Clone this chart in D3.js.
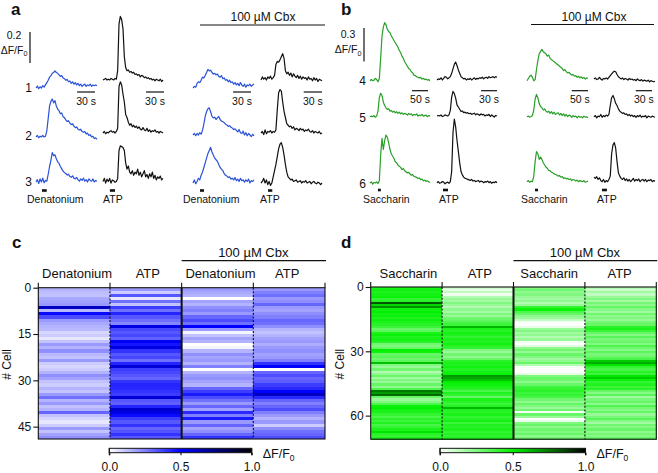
<!DOCTYPE html>
<html><head><meta charset="utf-8">
<script src="https://cdn.jsdelivr.net/npm/d3@7"></script>
<style>
body{margin:0;background:#fff}
svg{display:block}
text{font-family:"Liberation Sans",Arial,Helvetica,sans-serif;fill:#111}
</style>
</head><body>
<script>
// ---------------- DATA (ΔF/F0 values) ----------------
// Panel a: Denatonium / ATP traces, cells 1-3, control and 100 µM Cbx
const aDenCtrl = [
 [0.00,0.012,-0.005,0.008,0.0,0.015,0.005,0.02,0.035,0.05,0.07,0.08,0.095,0.1,0.11,0.1,0.095,0.085,0.075,0.08,0.065,0.06,0.05,0.055,0.04,0.045,0.03,0.04,0.025,0.035,0.02,0.03,0.015,0.025,0.01,0.02,0.025,0.01,0.02,0.015,0.025,0.01,0.02,0.015,0.02,0.015],
 [0.0,0.01,-0.005,0.005,0.0,0.01,0.0,0.005,0.04,0.12,0.2,0.23,0.245,0.22,0.235,0.2,0.18,0.17,0.15,0.155,0.13,0.125,0.11,0.1,0.105,0.09,0.08,0.085,0.07,0.06,0.065,0.05,0.045,0.05,0.035,0.03,0.035,0.02,0.025,0.01,0.015,0.0,0.005,-0.01,-0.005,-0.015],
 [0.0,0.015,-0.01,0.02,0.0,0.025,-0.005,0.01,0.005,0.05,0.1,0.14,0.19,0.17,0.175,0.15,0.13,0.12,0.1,0.085,0.07,0.06,0.055,0.045,0.05,0.035,0.03,0.04,0.025,0.02,0.03,0.015,0.005,0.02,0.01,0.025,0.005,0.015,0.0,0.02,0.01,0.005,0.02,0.0,0.01,0.005]
];
const aAtpCtrl = [
 [0.0,0.005,0.01,0.0,0.005,0.0,0.01,0.005,0.0,0.01,0.005,0.06,0.36,0.41,0.39,0.33,0.15,0.08,0.06,0.065,0.05,0.055,0.045,0.05,0.035,0.04,0.03,0.035,0.02,0.03,0.025,0.015,0.02,0.01,0.015,0.005,0.01,0.0,0.005,-0.005,0.005,0.0,-0.005,0.005,-0.01,0.0],
 [0.0,0.01,-0.005,0.005,0.0,0.01,0.015,0.005,0.01,0.0,0.01,0.03,0.3,0.33,0.31,0.25,0.2,0.12,0.1,0.07,0.05,0.06,0.04,0.05,0.035,0.045,0.03,0.04,0.025,0.02,0.035,0.02,0.015,0.03,0.01,0.02,0.005,0.015,0.01,0.02,0.005,0.01,0.0,0.01,0.005,0.0],
 [0.0,0.02,-0.01,0.015,0.0,0.02,-0.01,0.01,0.005,-0.005,0.0,0.02,0.2,0.23,0.225,0.22,0.2,0.12,0.08,0.1,0.06,0.05,0.07,0.04,0.06,0.05,0.08,0.04,0.06,0.03,0.05,0.07,0.03,0.045,0.02,0.05,0.03,0.06,0.02,0.04,0.01,0.03,0.02,0.035,0.01,0.02]
];
const aDenCbx = [
 [0.0,0.01,0.005,0.03,0.04,0.035,0.05,0.07,0.065,0.08,0.1,0.12,0.11,0.115,0.1,0.09,0.095,0.085,0.09,0.075,0.07,0.08,0.06,0.065,0.05,0.055,0.04,0.05,0.035,0.04,0.025,0.035,0.02,0.03,0.015,0.035,0.02,0.01,0.025,0.005,0.02,0.015,0.025,0.01,0.02,0.025],
 [0.0,0.01,-0.005,0.01,0.0,0.015,0.005,0.03,0.07,0.12,0.15,0.17,0.175,0.15,0.12,0.11,0.115,0.1,0.11,0.12,0.1,0.09,0.085,0.08,0.07,0.065,0.055,0.06,0.05,0.045,0.035,0.04,0.03,0.02,0.035,0.015,0.01,0.025,0.0,0.015,-0.005,0.01,0.0,-0.01,0.005,-0.005],
 [0.0,0.02,-0.005,0.01,0.03,0.02,0.05,0.07,0.1,0.13,0.16,0.19,0.21,0.23,0.2,0.18,0.16,0.15,0.14,0.12,0.1,0.09,0.08,0.06,0.05,0.045,0.035,0.04,0.025,0.03,0.02,0.035,0.015,0.025,0.01,0.03,0.015,0.02,0.005,0.02,0.01,0.025,0.0,0.015,0.01,0.02]
];
const aAtpCbx = [
 [0.0,0.02,0.005,0.015,0.0,0.02,0.01,0.025,0.005,0.015,0.03,0.1,0.12,0.115,0.13,0.15,0.17,0.14,0.06,0.04,0.05,0.03,0.045,0.02,0.04,0.025,0.015,0.03,0.01,0.025,0.005,0.02,0.01,0.015,0.0,0.02,0.005,0.01,-0.005,0.015,0.0,0.01,-0.01,0.005,0.0,-0.005],
 [0.0,0.01,-0.01,0.02,-0.005,0.01,0.005,0.015,0.0,0.01,0.005,0.02,0.15,0.26,0.28,0.27,0.2,0.14,0.1,0.06,0.05,0.04,0.045,0.03,0.04,0.02,0.03,0.025,0.015,0.03,0.02,0.025,0.01,0.02,0.015,0.025,0.01,0.005,0.015,0.0,0.01,0.005,0.0,0.01,-0.005,0.0],
 [0.0,0.01,0.03,0.0,0.02,-0.01,0.01,-0.015,0.0,0.04,0.08,0.12,0.17,0.22,0.25,0.26,0.23,0.18,0.12,0.07,0.04,0.03,0.02,0.025,0.01,0.015,0.02,0.005,0.01,0.015,0.0,0.01,0.005,0.015,0.0,0.005,0.01,-0.005,0.005,0.01,0.0,-0.005,0.005,0.0,-0.01,0.0]
];
// Panel b: Saccharin / ATP traces, cells 4-6
const bSacCtrl = [
 [0.0,0.01,0.0,0.005,0.02,0.01,-0.01,0.02,0.2,0.4,0.48,0.52,0.5,0.46,0.44,0.43,0.4,0.38,0.36,0.34,0.32,0.3,0.27,0.25,0.22,0.2,0.17,0.15,0.13,0.11,0.1,0.08,0.07,0.05,0.045,0.035,0.03,0.025,0.03,0.015,0.02,0.01,0.015,0.005,0.01,0.0],
 [0.0,0.005,0.0,0.01,-0.005,0.005,0.05,0.17,0.21,0.19,0.13,0.1,0.08,0.065,0.07,0.05,0.055,0.04,0.05,0.035,0.045,0.03,0.04,0.025,0.035,0.02,0.03,0.025,0.015,0.03,0.02,0.025,0.01,0.02,0.015,0.025,0.005,0.015,0.01,0.02,0.005,0.01,0.015,0.0,0.01,0.005],
 [0.0,0.01,-0.01,0.005,0.0,0.01,-0.005,0.02,0.25,0.4,0.3,0.38,0.43,0.41,0.36,0.3,0.26,0.24,0.22,0.19,0.18,0.16,0.15,0.14,0.12,0.13,0.11,0.1,0.09,0.095,0.08,0.07,0.075,0.06,0.055,0.05,0.04,0.045,0.03,0.035,0.02,0.025,0.015,0.02,0.01,0.005]
];
const bAtpCtrl = [
 [0.0,0.01,0.005,0.02,0.0,0.015,0.03,0.025,0.01,0.02,0.03,0.06,0.1,0.14,0.16,0.13,0.09,0.06,0.03,0.02,0.01,0.015,0.0,0.01,0.005,0.015,0.0,0.01,0.02,0.005,0.015,0.01,0.02,0.015,0.025,0.01,0.02,0.025,0.015,0.03,0.02,0.025,0.03,0.02,0.03,0.025],
 [0.0,0.005,0.0,0.01,-0.005,0.0,0.01,0.005,0.0,0.01,0.05,0.17,0.22,0.2,0.16,0.1,0.08,0.06,0.04,0.045,0.03,0.035,0.025,0.03,0.02,0.025,0.015,0.02,0.025,0.01,0.02,0.015,0.005,0.02,0.01,0.015,0.0,0.01,0.005,0.015,-0.005,0.01,0.0,-0.01,0.005,0.0],
 [0.0,0.01,-0.005,0.0,0.01,0.005,-0.01,0.0,0.005,-0.005,0.01,0.1,0.45,0.57,0.5,0.38,0.28,0.18,0.1,0.07,0.05,0.04,0.035,0.03,0.025,0.02,0.03,0.015,0.02,0.01,0.015,0.02,0.005,0.015,0.01,0.0,0.01,0.005,0.015,0.0,0.01,-0.005,0.005,0.0,0.01,0.0]
];
const bSacCbx = [
 [0.0,0.02,0.04,0.05,0.03,0.0,0.01,0.1,0.18,0.24,0.26,0.28,0.26,0.25,0.24,0.22,0.23,0.2,0.19,0.18,0.17,0.16,0.15,0.14,0.13,0.12,0.11,0.09,0.1,0.08,0.07,0.075,0.06,0.05,0.055,0.04,0.045,0.03,0.04,0.025,0.035,0.02,0.03,0.015,0.025,0.02],
 [0.0,0.005,-0.005,0.0,0.01,0.06,0.16,0.2,0.17,0.12,0.09,0.08,0.06,0.07,0.05,0.04,0.05,0.03,0.045,0.025,0.04,0.02,0.03,0.035,0.015,0.03,0.01,0.025,0.005,0.02,0.0,0.015,0.01,-0.005,0.01,0.0,0.005,-0.01,0.005,-0.005,0.0,-0.01,0.005,-0.005,0.0,-0.01],
 [0.0,0.01,-0.005,0.005,0.0,0.05,0.18,0.27,0.25,0.2,0.22,0.2,0.17,0.15,0.13,0.12,0.1,0.1,0.085,0.08,0.07,0.065,0.06,0.05,0.055,0.04,0.045,0.03,0.035,0.025,0.03,0.02,0.025,0.01,0.02,0.015,0.005,0.015,0.0,0.01,0.005,0.0,0.01,-0.005,0.0,0.005]
];
const bAtpCbx = [
 [0.0,0.01,-0.005,0.0,0.015,0.0,-0.01,0.005,0.0,0.01,0.0,0.015,0.03,0.045,0.06,0.07,0.065,0.04,0.02,0.01,0.0,0.01,-0.005,0.005,0.0,-0.01,0.005,-0.005,0.0,-0.01,-0.005,-0.015,0.0,-0.01,-0.015,-0.005,-0.02,-0.01,-0.015,-0.02,-0.01,-0.025,-0.015,-0.02,-0.025,-0.02],
 [0.0,0.01,-0.01,0.005,0.0,0.02,-0.005,0.01,0.0,0.015,0.005,0.02,0.1,0.17,0.19,0.16,0.12,0.1,0.07,0.05,0.04,0.03,0.035,0.02,0.025,0.01,0.02,0.005,0.015,0.0,0.01,-0.005,0.01,0.0,0.015,-0.005,0.005,0.0,0.01,-0.01,0.005,0.0,-0.005,0.005,0.0,-0.005],
 [0.04,0.03,0.045,0.02,0.035,0.01,0.0,0.02,-0.005,0.01,0.0,0.02,0.05,0.25,0.33,0.35,0.3,0.18,0.08,0.05,0.03,0.02,0.035,0.01,0.025,0.005,0.02,0.0,0.015,0.03,0.005,0.02,0.01,0.025,0.0,0.015,0.02,0.005,0.02,0.0,0.015,0.01,0.02,0.0,0.01,0.005]
];

// Panel c heatmap (49 cells): Denatonium, ATP, Cbx Denatonium, Cbx ATP
const cColumns = ["Denatonium","ATP","Denatonium","ATP"];
const cDenCtrl = [0.15,0.13,0.12,0.17,0.18,0.2,0.62,0.14,0.48,0.35,0.2,0.17,0.15,0.14,0.08,0.1,0.05,0.12,0.2,0.15,0.22,0.14,0.12,0.2,0.1,0.08,0.1,0.15,0.22,0.18,0.12,0.1,0.15,0.12,0.2,0.28,0.15,0.2,0.12,0.15,0.3,0.12,0.08,0.05,0.1,0.2,0.12,0.18,0.22];
const cAtpCtrl = [0.2,0.1,0.33,0.05,0.28,0.12,0.38,0.28,0.43,0.33,0.28,0.24,0.55,0.36,0.33,0.36,0.31,0.52,0.46,0.55,0.4,0.33,0.36,0.28,0.43,0.58,0.38,0.36,0.33,0.3,0.4,0.43,0.42,0.4,0.38,0.58,0.33,0.31,0.43,0.6,0.55,0.48,0.38,0.33,0.4,0.3,0.34,0.4,0.33];
const cDenCbx = [0.2,0.17,0.15,0.0,0.18,0.15,0.22,0.25,0.2,0.3,0.35,0.28,0.5,0.2,0.02,0.12,0.18,0.15,0.0,0.02,0.15,0.22,0.18,0.2,0.15,0.25,0.0,0.15,0.2,0.22,0.18,0.15,0.3,0.38,0.45,0.35,0.28,0.2,0.3,0.18,0.42,0.25,0.45,0.2,0.3,0.18,0.22,0.3,0.4];
const cAtpCbx = [0.2,0.25,0.28,0.2,0.22,0.3,0.2,0.18,0.22,0.25,0.3,0.28,0.22,0.15,0.12,0.15,0.18,0.2,0.16,0.2,0.22,0.18,0.2,0.25,0.4,0.5,0.0,0.3,0.35,0.3,0.32,0.38,0.42,0.5,0.62,0.42,0.3,0.25,0.3,0.35,0.25,0.2,0.15,0.2,0.1,0.22,0.28,0.3,0.35];
const cTicks = [0,15,30,45];

// Panel d heatmap (71 cells): Saccharin, ATP, Cbx Saccharin, Cbx ATP
const dColumns = ["Saccharin","ATP","Saccharin","ATP"];
const dSacCtrl = [0.45,0.47,0.44,0.46,0.48,0.4,0.42,0.82,0.55,0.7,0.47,0.5,0.46,0.48,0.44,0.47,0.45,0.42,0.38,0.3,0.32,0.45,0.48,0.44,0.46,0.42,0.28,0.25,0.3,0.5,0.47,0.3,0.33,0.28,0.32,0.6,0.25,0.2,0.28,0.15,0.22,0.3,0.18,0.25,0.2,0.3,0.22,0.35,0.75,0.68,0.78,0.3,0.2,0.25,0.35,0.48,0.5,0.46,0.45,0.4,0.35,0.42,0.38,0.44,0.36,0.4,0.45,0.52,0.42,0.4,0.44];
const dAtpCtrl = [0.1,0.05,0.12,0.03,0.15,0.2,0.18,0.25,0.2,0.15,0.22,0.18,0.25,0.2,0.28,0.3,0.35,0.38,0.62,0.45,0.42,0.46,0.44,0.4,0.45,0.43,0.47,0.42,0.4,0.25,0.2,0.28,0.22,0.3,0.42,0.45,0.44,0.47,0.43,0.46,0.48,0.68,0.65,0.6,0.5,0.47,0.45,0.42,0.35,0.44,0.4,0.3,0.45,0.42,0.38,0.43,0.62,0.44,0.42,0.45,0.4,0.43,0.46,0.38,0.44,0.42,0.45,0.4,0.43,0.41,0.44];
const dSacCbx = [0.25,0.28,0.22,0.25,0.2,0.18,0.22,0.15,0.2,0.4,0.48,0.35,0.3,0.22,0.2,0.12,0.02,0.0,0.05,0.2,0.25,0.18,0.22,0.15,0.2,0.03,0.0,0.06,0.22,0.28,0.2,0.3,0.25,0.18,0.22,0.3,0.15,0.02,0.0,0.0,0.05,0.25,0.3,0.28,0.22,0.3,0.38,0.4,0.42,0.38,0.4,0.36,0.28,0.22,0.3,0.25,0.2,0.28,0.02,0.3,0.2,0.0,0.05,0.25,0.3,0.22,0.28,0.25,0.3,0.22,0.28];
const dAtpCbx = [0.15,0.1,0.18,0.12,0.2,0.25,0.18,0.27,0.22,0.3,0.24,0.18,0.28,0.22,0.25,0.2,0.27,0.3,0.42,0.45,0.38,0.3,0.24,0.33,0.26,0.3,0.24,0.35,0.28,0.24,0.32,0.26,0.3,0.36,0.58,0.64,0.52,0.4,0.36,0.42,0.38,0.52,0.58,0.48,0.4,0.44,0.38,0.42,0.3,0.24,0.33,0.18,0.26,0.3,0.22,0.35,0.27,0.24,0.3,0.2,0.26,0.33,0.24,0.18,0.28,0.24,0.3,0.22,0.27,0.24,0.3];
const dTicks = [0,30,60];
const cbTicks = [0.0,0.5,1.0];

// ---------------- LAYOUT ----------------
const svg = d3.select("body").append("svg").attr("width",658).attr("height",473);
const INK = "#111";
const BLUE = "#2a52d8", GREEN = "#28a028";

function text(x,y,s,size,anchor,weight){
  return svg.append("text").attr("x",x).attr("y",y).attr("font-size",size)
    .attr("text-anchor",anchor||"start").attr("font-weight",weight||"normal").text(s);
}
function dffLabel(x,y,size,anchor){
  const t = svg.append("text").attr("x",x).attr("y",y).attr("font-size",size).attr("text-anchor",anchor||"start");
  t.append("tspan").text("ΔF/F");
  t.append("tspan").attr("font-size",size*0.68).attr("dy",size*0.28).text("0");
  return t;
}
function hline(x1,x2,y,w){ svg.append("line").attr("x1",x1).attr("x2",x2).attr("y1",y).attr("y2",y).attr("stroke",INK).attr("stroke-width",w||1); }

// trace groups
function drawGroup(grp, pxPerUnit, stimY, sbY){
  const x = d3.scaleLinear().domain([0,grp.dur]).range([grp.x0, grp.x0+grp.w]);
  grp.data.forEach((vals,r)=>{
    const y = d3.scaleLinear().domain([0,1]).range([grp.base[r], grp.base[r]-pxPerUnit]);
    const n = vals.length;
    const line = d3.line().x((d,i)=>x(i*grp.dur/(n-1))).y(d=>y(d));
    svg.append("path").attr("d",line(vals)).attr("fill","none").attr("stroke",grp.color)
      .attr("stroke-width",1.2).attr("stroke-linejoin","round");
  });
  svg.append("rect").attr("x",x(grp.stim[0])).attr("width",x(grp.stim[1])-x(grp.stim[0]))
    .attr("y",stimY-1.3).attr("height",2.6).attr("fill",INK);
  const xe = x(grp.sbEnd), xs = x(grp.sbEnd-grp.sbLen);
  hline(xs,xe,sbY,1.2);
  text((xs+xe)/2, sbY+12.5, grp.sbLen+" s", 10.5, "middle");
}

// Panel a
const pxA = 31/0.2;
[
 {data:aDenCtrl,x0:36,w:61,dur:102,color:BLUE,base:[88,137,182],stim:[10,18],sbEnd:98.7,sbLen:30},
 {data:aAtpCtrl,x0:103,w:60,dur:100,color:INK,base:[80,133,181.5],stim:[11.5,20],sbEnd:101.7,sbLen:30},
 {data:aDenCbx,x0:193,w:61,dur:102,color:BLUE,base:[88,135,183],stim:[11.7,18.4],sbEnd:97,sbLen:30},
 {data:aAtpCbx,x0:261,w:61,dur:100,color:INK,base:[80,133,183],stim:[11.5,18.5],sbEnd:100,sbLen:30}
].forEach(g=>drawGroup(g,pxA,190.5,92));
// Panel b
const pxB = 33.5/0.3;
[
 {data:bSacCtrl,x0:370,w:60,dur:188,color:GREEN,base:[80.7,116.7,183],stim:[25,34],sbEnd:181.7,sbLen:50},
 {data:bAtpCtrl,x0:437,w:60,dur:113,color:INK,base:[80,116,182.7],stim:[11.3,20.7],sbEnd:113,sbLen:30},
 {data:bSacCbx,x0:527,w:61,dur:188,color:GREEN,base:[80.7,116.7,181.7],stim:[24.7,34],sbEnd:188,sbLen:50},
 {data:bAtpCbx,x0:594,w:61,dur:113,color:INK,base:[79,116.7,181.7],stim:[14.8,24],sbEnd:107.4,sbLen:30}
].forEach(g=>drawGroup(g,pxB,190,90.7));

// vertical amplitude scale bars
{
  const ya = d3.scaleLinear().domain([0,0.2]).range([63,63-pxA*0.2]);
  svg.append("line").attr("x1",30).attr("x2",30).attr("y1",ya(0)).attr("y2",ya(0.2)).attr("stroke",INK).attr("stroke-width",1.2);
  text(14,39,"0.2",10.5,"middle"); dffLabel(14,53.5,10.5,"middle");
  const yb = d3.scaleLinear().domain([0,0.3]).range([61.5,61.5-pxB*0.3]);
  svg.append("line").attr("x1",364).attr("x2",364).attr("y1",yb(0)).attr("y2",yb(0.3)).attr("stroke",INK).attr("stroke-width",1.2);
  text(348,38.3,"0.3",10.5,"middle"); dffLabel(348,53,10.5,"middle");
}
// row numbers
[["1",91.7],["2",140],["3",185.5]].forEach(d=>text(32,d[1],d[0],12,"end"));
[["4",85],["5",121.7],["6",188]].forEach(d=>text(366,d[1],d[0],12,"end"));
// stimulus labels
text(27,203,"Denatonium",10.5); text(103,203,"ATP",10.5);
text(183,203,"Denatonium",10.5); text(260,203,"ATP",10.5);
text(363,202.7,"Saccharin",10.5); text(439,202.7,"ATP",10.5);
text(521,202.7,"Saccharin",10.5); text(597,202.7,"ATP",10.5);
// Cbx headers
text(263,20.5,"100 µM Cbx",12,"middle"); hline(200,325,25,1.2);
text(594,20.5,"100 µM Cbx",12,"middle"); hline(531,654,24.5,1.2);
// panel letters
text(11,15,"a",17,"start","bold"); text(341,15,"b",17,"start","bold");
text(12,248,"c",17,"start","bold"); text(341,248,"d",17,"start","bold");

// ---------------- Heatmaps ----------------
function heatmap(cfg){
  const cols = cfg.data;
  const N = cols[0].length;
  const x = d3.scaleBand().domain(d3.range(cols.length)).range([cfg.left,cfg.right]).paddingInner(0).paddingOuter(0);
  const y = d3.scaleLinear().domain([0,N]).range([cfg.top,cfg.bottom]);
  const g = svg.append("g");
  cols.forEach((col,ci)=>{
    g.selectAll(null).data(col).enter().append("rect")
      .attr("x",x(ci)).attr("width",x.bandwidth()+0.3)
      .attr("y",(d,i)=>y(i)).attr("height",(d,i)=>y(i+1)-y(i)+0.35)
      .attr("fill",d=>cfg.color(d)).attr("shape-rendering","crispEdges");
  });
  [1,3].forEach(k=>svg.append("line").attr("x1",x(k)).attr("x2",x(k)).attr("y1",cfg.top).attr("y2",cfg.bottom)
    .attr("stroke",INK).attr("stroke-width",1.1).attr("stroke-dasharray","2,1.6"));
  svg.append("line").attr("x1",x(2)).attr("x2",x(2)).attr("y1",cfg.top).attr("y2",cfg.bottom).attr("stroke",INK).attr("stroke-width",2);
  svg.append("rect").attr("x",cfg.left).attr("y",cfg.top).attr("width",cfg.right-cfg.left).attr("height",cfg.bottom-cfg.top)
    .attr("fill","none").attr("stroke",INK).attr("stroke-width",1.1);
  [0,1,2,3,4].forEach(k=>{
    const xx = k<4 ? x(k) : cfg.right;
    svg.append("line").attr("x1",xx).attr("x2",xx).attr("y1",cfg.top-5).attr("y2",cfg.top).attr("stroke",INK).attr("stroke-width",1.1);
  });
  cfg.labels.forEach((l,i)=>text(x(i)+x.bandwidth()/2+cfg.labelDx[i],278,l,13,"middle"));
  const ax = svg.append("g").attr("transform",`translate(${cfg.left},0)`)
    .call(d3.axisLeft(y).tickValues(cfg.ticks).tickSize(5).tickPadding(2).tickFormat(d3.format("d")));
  ax.select(".domain").remove();
  ax.selectAll("line").attr("stroke",INK).attr("stroke-width",1.1);
  ax.selectAll("text").attr("font-size",12).attr("font-family",'"Liberation Sans",Arial,sans-serif').attr("fill",INK);
  svg.append("text").attr("transform",`translate(${cfg.left-27},${(cfg.top+cfg.bottom)/2+1}) rotate(-90)`)
    .attr("text-anchor","middle").attr("font-size",12).text("# Cell");
  text((x(2)+cfg.right)/2+cfg.cbxDx,257,"100 µM Cbx",13,"middle");
  hline(x(2),cfg.right+1,260.7,1.2);
  const cbx = d3.scaleLinear().domain([0,1]).range(cfg.cb);
  const gid = "grad"+cfg.id;
  const grad = svg.append("defs").append("linearGradient").attr("id",gid);
  d3.range(0,1.0001,0.05).forEach(t=>grad.append("stop").attr("offset",t).attr("stop-color",cfg.color(t)));
  svg.append("rect").attr("x",cbx(0)).attr("y",448.3).attr("width",cbx(1)-cbx(0)).attr("height",4.4)
    .attr("fill",`url(#${gid})`).attr("stroke",INK).attr("stroke-width",1);
  const cax = svg.append("g").attr("transform","translate(0,452.7)")
    .call(d3.axisBottom(cbx).tickValues(cbTicks).tickSize(2.5).tickPadding(7).tickFormat(d3.format(".1f")));
  cax.select(".domain").remove();
  cax.selectAll("line").attr("stroke",INK).attr("stroke-width",1.1);
  cax.selectAll("text").attr("font-size",12).attr("font-family",'"Liberation Sans",Arial,sans-serif').attr("fill",INK);
  [0,1].forEach(v=>svg.append("line").attr("x1",cbx(v)).attr("x2",cbx(v)).attr("y1",448.3).attr("y2",455.2).attr("stroke",INK).attr("stroke-width",1.1));
  dffLabel(cbx(1)+11,457.5,12.5,"start");
}
const blueMap = d3.scaleLinear().domain([0,0.5,1]).range(["#ffffff","#0000ff","#000000"]).clamp(true);
const greenMap = d3.scaleLinear().domain([0,0.5,1]).range(["#ffffff","#00f000","#000000"]).clamp(true);

heatmap({id:"c",data:[cDenCtrl,cAtpCtrl,cDenCbx,cAtpCbx],labels:cColumns,labelDx:[3,2,3,-2],ticks:cTicks,
  left:38.3,right:325,top:287.7,bottom:439,color:blueMap,cb:[109.3,251.7],cbxDx:0});
heatmap({id:"d",data:[dSacCtrl,dAtpCtrl,dSacCbx,dAtpCbx],labels:dColumns,labelDx:[2,2,0,-1],ticks:dTicks,
  left:370.7,right:656.3,top:287,bottom:439.2,color:greenMap,cb:[440,585.5],cbxDx:0});
</script>
</body></html>
